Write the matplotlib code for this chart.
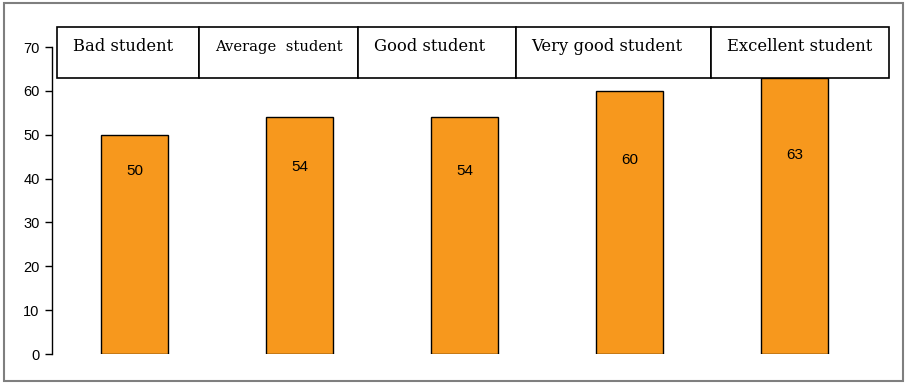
import matplotlib.pyplot as plt
from matplotlib.patches import Rectangle

# Data
categories = ["Bad student", "Average  student", "Good student", "Very good student", "Excellent student"]
values = [50, 54, 54, 60, 63]
label_heights = [41.7, 42.6, 41.7, 44.2, 45.4]   # where the value labels sit
yticks = [0, 10, 20, 30, 40, 50, 60, 70]

# Header table layout (data coords)
cell_edges = [-0.47, 0.391, 1.355, 2.312, 3.494, 4.573]
cell_bottom, cell_top = 62.9, 74.6
header_sizes = [11.75, 10.6, 11.75, 11.75, 11.75]

plt.rcParams['font.family'] = ['Liberation Sans', 'DejaVu Sans']

fig = plt.figure(figsize=(9.06, 3.83), dpi=100)
ax = fig.add_axes([52 / 906, 29 / 383, 837 / 906, 307 / 383])

x = range(len(values))
ax.bar(x, values, width=0.406, color='#F7981D', edgecolor='black', linewidth=1, zorder=2)
for xi, v, h in zip(x, values, label_heights):
    ax.text(xi, h, str(v), ha='center', va='center', fontsize=11, zorder=3)

ax.set_xlim(-0.5, 4.573)
ax.set_ylim(0, 70)
ax.set_yticks(yticks)
ax.set_xticks([])
for s in ['top', 'right', 'bottom']:
    ax.spines[s].set_visible(False)
ax.spines['left'].set_linewidth(1)
ax.tick_params(axis='y', length=5, width=1, labelsize=10.5, pad=4)

# Header table
for i, name in enumerate(categories):
    left, right = cell_edges[i], cell_edges[i + 1]
    ax.add_patch(Rectangle((left, cell_bottom), right - left, cell_top - cell_bottom,
                           facecolor='white', edgecolor='black', linewidth=1.2,
                           clip_on=False, zorder=4))
    ax.text(left + 0.095, 70.1, name, ha='left', va='center', fontsize=header_sizes[i],
            family=['DejaVu Serif'], zorder=5, clip_on=False)

# Outer frame
fig.patches.append(Rectangle((4 / 906, 2 / 383), 899 / 906, 378 / 383, transform=fig.transFigure,
                             fill=False, edgecolor='#7f7f7f', linewidth=1.5))

fig.savefig("out.png", dpi=100)
